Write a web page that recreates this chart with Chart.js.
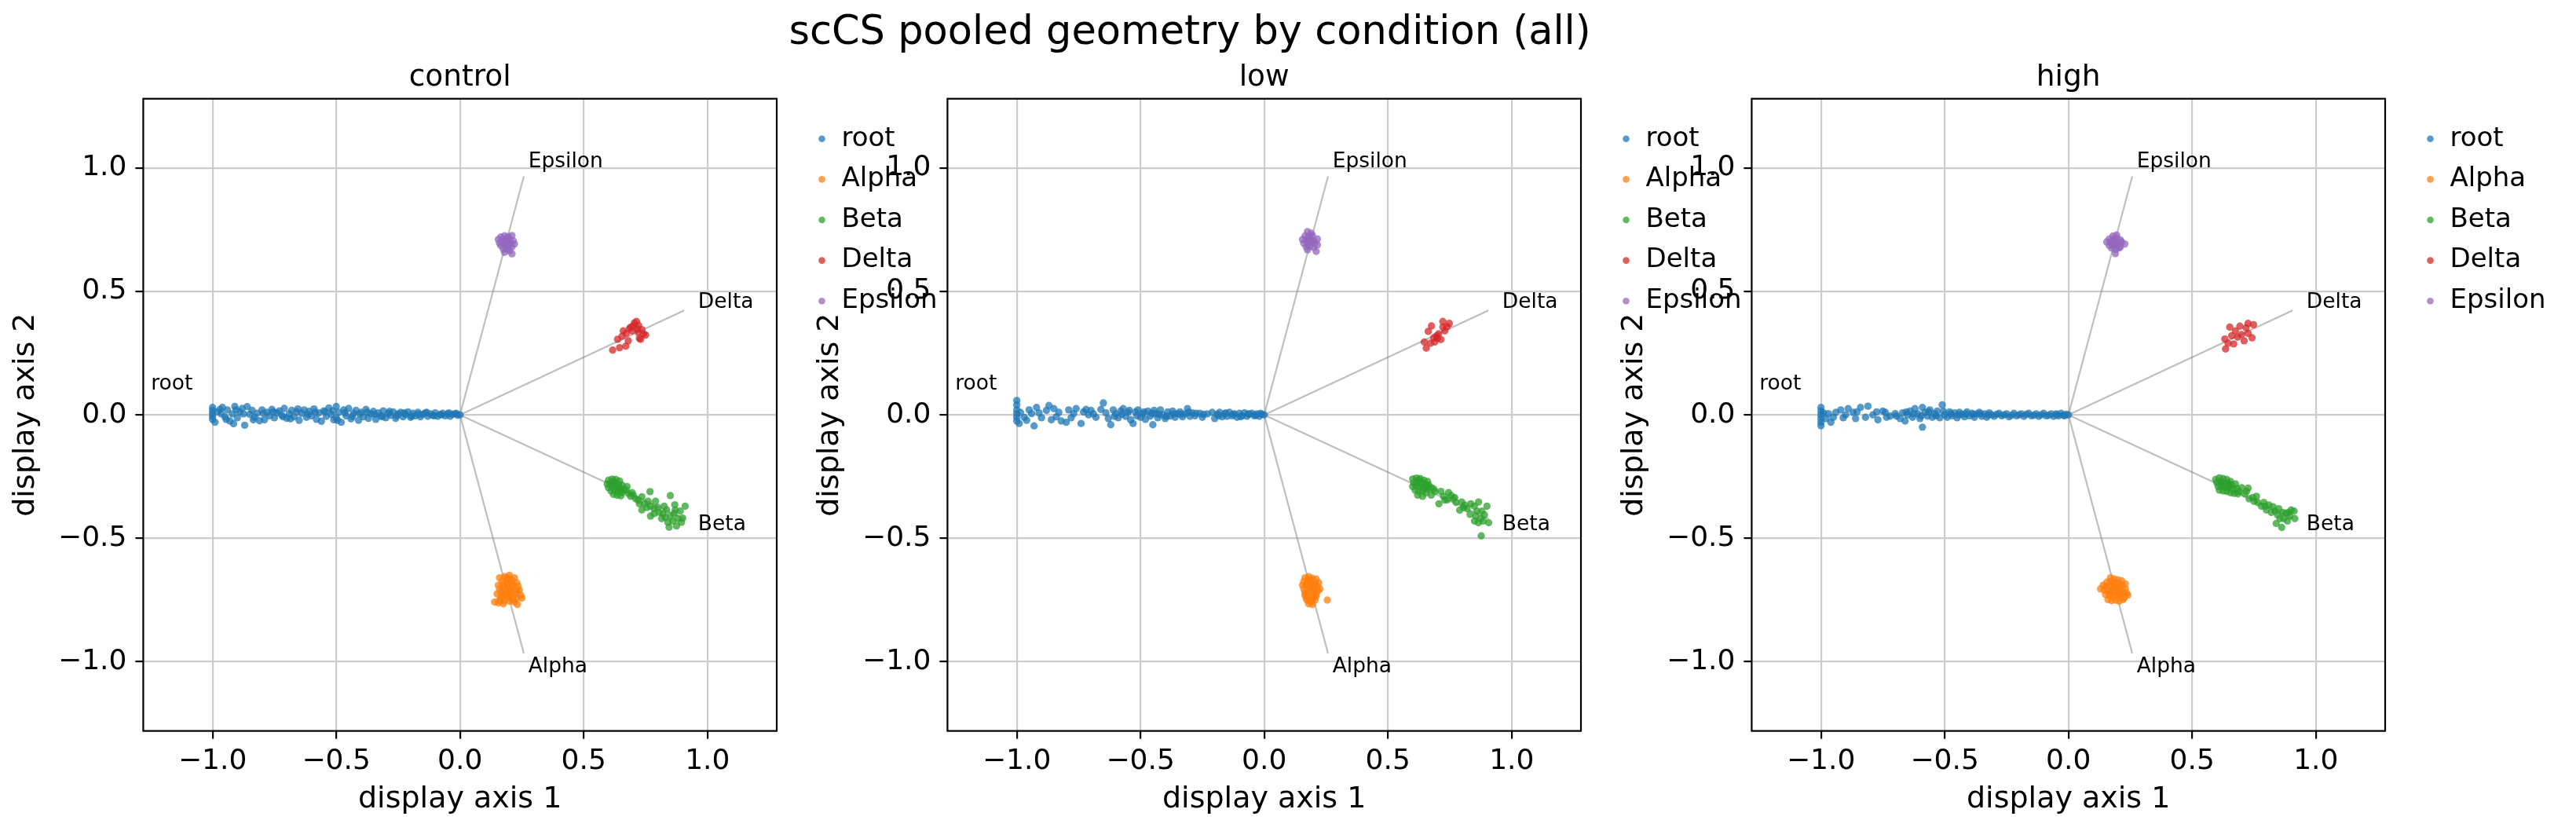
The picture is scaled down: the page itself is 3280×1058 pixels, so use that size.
<!DOCTYPE html>
<html>
<head>
<meta charset="utf-8">
<title>scCS pooled geometry by condition (all)</title>
<script src="https://cdn.jsdelivr.net/npm/chart.js@4.4.1/dist/chart.umd.min.js"></script>
<style>
  html, body { margin: 0; padding: 0; background: #fff; }
  body { width: 3280px; height: 1058px; position: relative; overflow: hidden; font-family: "DejaVu Sans", sans-serif; }
  #suptitle { position: absolute; left: 0; top: 13px; width: 3030px; text-align: center; font-size: 51px; line-height: 51px; color: #000; white-space: nowrap; }
  canvas { position: absolute; top: 0; }
</style>
</head>
<body>
<div id="suptitle">scCS pooled geometry by condition (all)</div>
<canvas id="panel0" width="1232" height="1058" style="left:0px"></canvas>
<canvas id="panel1" width="1232" height="1058" style="left:1024px"></canvas>
<canvas id="panel2" width="1232" height="1058" style="left:2048px"></canvas>
<script>
// 🔹 DATA
const conditions = ["control", "low", "high"];
const groups = ["root", "Alpha", "Beta", "Delta", "Epsilon"];
const groupColors = ["#1f77b4", "#ff7f0e", "#2ca02c", "#d62728", "#9467bd"];
const axisTicks = [-1.0, -0.5, 0.0, 0.5, 1.0];
const axisLimits = [-1.28, 1.28];

// branch rays (origin -> end) and label anchors, same order as groups[1..]
const branchEnds = [[0.258, -0.966], [0.907, -0.421], [0.906, 0.423], [0.258, 0.966]];
const branchLabelAt = [[0.276, -1.022], [0.962, -0.446], [0.962, 0.454], [0.276, 1.025]];
const rootLabelAt = [-1.08, 0.125];

// control
const rootControl = [[-1.00,0.030],[-1.00,0.018],[-1.00,0.006],[-1.00,-0.006],[-1.00,-0.018],[-0.99,-0.030],[-0.98,0.012],[-0.97,0.022],[-0.96,0.030],[-0.95,-0.008],[-0.94,0.020],[-0.93,-0.025],[-0.92,0.004],[-0.915,-0.036],[-0.91,0.034],[-0.90,-0.012],[-0.89,0.012],[-0.88,0.026],[-0.87,-0.042],[-0.86,0.033],[-0.85,0.002],[-0.84,0.018],[-0.83,-0.010],[-0.82,0.006],[-0.81,-0.024],[-0.80,0.020],[-0.79,-0.020],[-0.78,0.010],[-0.77,-0.004],[-0.76,0.022],[-0.75,-0.012],[-0.74,0.008],[-0.73,0.016],[-0.72,-0.002],[-0.71,0.026],[-0.70,-0.014],[-0.69,0.004],[-0.68,0.018],[-0.67,-0.008],[-0.66,0.012],[-0.65,-0.022],[-0.64,0.006],[-0.63,0.020],[-0.62,-0.010],[-0.61,0.014],[-0.60,-0.004],[-0.59,0.024],[-0.58,-0.018],[-0.57,0.008],[-0.56,-0.026],[-0.55,0.016],[-0.54,-0.006],[-0.53,0.028],[-0.52,0.002],[-0.51,-0.020],[-0.50,0.034],[-0.50,-0.012],[-0.49,0.010],[-0.48,-0.030],[-0.47,0.020],[-0.46,-0.004],[-0.45,0.026],[-0.44,-0.016],[-0.43,0.006],[-0.42,0.018],[-0.41,-0.022],[-0.40,0.010],[-0.39,-0.008],[-0.38,0.022],[-0.37,-0.014],[-0.36,0.004],[-0.35,0.014],[-0.34,-0.018],[-0.33,0.008],[-0.32,-0.004],[-0.31,0.016],[-0.30,-0.012],[-0.29,0.006],[-0.28,-0.002],[-0.27,0.012],[-0.26,-0.014],[-0.25,0.004],[-0.24,0.010],[-0.23,-0.008],[-0.22,0.002],[-0.21,0.012],[-0.20,-0.010],[-0.19,0.006],[-0.18,-0.004],[-0.17,0.010],[-0.16,-0.008],[-0.15,0.002],[-0.14,0.008],[-0.13,-0.006],[-0.12,0.004],[-0.11,-0.002],[-0.10,0.008],[-0.09,-0.006],[-0.08,0.002],[-0.07,0.006],[-0.06,-0.004],[-0.05,0.004],[-0.04,-0.006],[-0.03,0.002],[-0.02,0.004],[-0.01,-0.002],[0.00,0.000],
    [-0.965,0.004],[-0.945,-0.018],[-0.905,0.020],[-0.875,0.004],[-0.835,-0.020],[-0.795,0.006],[-0.755,0.012],[-0.715,-0.008],[-0.685,-0.016],[-0.655,0.024],[-0.615,0.002],[-0.585,0.010],[-0.545,0.012],[-0.515,0.016],[-0.495,-0.022],[-0.465,0.008],[-0.435,-0.006],[-0.405,0.004],[-0.375,0.010],[-0.345,0.002],[-0.315,-0.008],[-0.285,0.014],[-0.255,-0.004],[-0.225,0.008],[-0.195,-0.006],[-0.165,0.002],[-0.135,0.010],[-0.105,-0.004],[-0.075,0.000],[-0.045,0.008],[-0.015,0.006]];
const alphaControl = [[0.16,-0.66],[0.18,-0.655],[0.20,-0.65],[0.22,-0.66],[0.17,-0.675],[0.19,-0.67],[0.21,-0.672],[0.23,-0.68],[0.155,-0.69],[0.175,-0.688],[0.195,-0.685],[0.215,-0.69],[0.235,-0.695],[0.16,-0.705],[0.18,-0.70],[0.20,-0.705],[0.22,-0.708],[0.24,-0.71],[0.165,-0.72],[0.185,-0.718],[0.205,-0.722],[0.225,-0.725],[0.245,-0.73],[0.17,-0.735],[0.19,-0.738],[0.21,-0.74],[0.23,-0.742],[0.16,-0.75],[0.18,-0.752],[0.20,-0.755],[0.14,-0.758],[0.155,-0.762],[0.175,-0.765],[0.22,-0.758],[0.232,-0.768],[0.25,-0.742],[0.195,-0.695],[0.205,-0.715],[0.185,-0.728],[0.20,-0.665],[0.19,-0.66],[0.21,-0.685],[0.17,-0.712],[0.23,-0.715],[0.2,-0.732],[0.165,-0.742],[0.215,-0.75],[0.15,-0.725]];
const betaControl = [[0.60,-0.265],[0.615,-0.26],[0.63,-0.262],[0.645,-0.268],[0.595,-0.28],[0.61,-0.278],[0.625,-0.275],[0.64,-0.28],[0.655,-0.285],[0.60,-0.295],[0.615,-0.292],[0.63,-0.29],[0.645,-0.296],[0.66,-0.30],[0.61,-0.308],[0.625,-0.305],[0.64,-0.31],[0.655,-0.315],[0.67,-0.305],[0.62,-0.322],[0.635,-0.325],[0.65,-0.328],[0.68,-0.318],[0.69,-0.33],[0.70,-0.325],[0.71,-0.34],[0.72,-0.345],[0.735,-0.332],[0.735,-0.385],[0.745,-0.36],[0.76,-0.35],[0.768,-0.311],[0.77,-0.37],[0.77,-0.41],[0.785,-0.38],[0.80,-0.375],[0.805,-0.395],[0.82,-0.40],[0.825,-0.37],[0.835,-0.385],[0.845,-0.455],[0.85,-0.327],[0.85,-0.41],[0.86,-0.43],[0.865,-0.40],[0.868,-0.364],[0.875,-0.45],[0.88,-0.42],[0.89,-0.39],[0.90,-0.418],[0.91,-0.37],[0.84,-0.435],[0.815,-0.42],[0.79,-0.35],[0.62,-0.27],[0.65,-0.305],[0.675,-0.29],[0.695,-0.315],[0.725,-0.36],[0.755,-0.375],[0.785,-0.40],[0.83,-0.415],[0.87,-0.385],[0.895,-0.435]];
const deltaControl = [[0.617,0.262],[0.645,0.272],[0.67,0.278],[0.637,0.306],[0.655,0.318],[0.66,0.34],[0.672,0.33],[0.685,0.35],[0.69,0.355],[0.70,0.36],[0.705,0.372],[0.713,0.378],[0.716,0.348],[0.722,0.362],[0.73,0.306],[0.735,0.345],[0.742,0.328],[0.75,0.323],[0.72,0.335],[0.695,0.34],[0.68,0.30],[0.725,0.31]];
const epsilonControl = [[0.165,0.72],[0.18,0.725],[0.195,0.722],[0.21,0.726],[0.155,0.71],[0.17,0.708],[0.185,0.712],[0.20,0.71],[0.215,0.705],[0.16,0.695],[0.175,0.698],[0.19,0.70],[0.205,0.696],[0.22,0.692],[0.165,0.685],[0.18,0.688],[0.195,0.684],[0.21,0.68],[0.175,0.672],[0.19,0.67],[0.20,0.665],[0.18,0.658],[0.21,0.652],[0.185,0.70],[0.20,0.69]];

// low
const rootLow = [[-1.00,0.058],[-1.00,0.04],[-1.00,0.02],[-1.00,0.005],[-1.00,-0.01],[-1.00,-0.025],[-0.99,-0.035],[-0.97,-0.01],[-0.95,0.02],[-0.94,0.005],[-0.93,-0.045],[-0.92,0.03],[-0.90,-0.012],[-0.88,0.018],[-0.87,0.038],[-0.86,-0.02],[-0.85,0.025],[-0.83,0.01],[-0.82,-0.025],[-0.80,-0.03],[-0.79,0.02],[-0.77,0.005],[-0.76,0.025],[-0.74,-0.035],[-0.73,0.012],[-0.71,0.0],[-0.70,0.018],[-0.68,-0.01],[-0.66,0.022],[-0.65,0.048],[-0.64,0.008],[-0.63,-0.015],[-0.62,-0.04],[-0.61,0.02],[-0.60,0.004],[-0.59,-0.012],[-0.58,0.015],[-0.57,0.025],[-0.56,-0.006],[-0.55,0.01],[-0.54,-0.02],[-0.53,-0.035],[-0.52,0.012],[-0.51,0.02],[-0.50,-0.01],[-0.49,0.005],[-0.48,-0.018],[-0.47,0.015],[-0.46,-0.005],[-0.45,-0.04],[-0.445,0.018],[-0.44,0.005],[-0.43,-0.012],[-0.42,0.02],[-0.41,0.0],[-0.40,-0.015],[-0.39,0.012],[-0.38,-0.005],[-0.37,0.015],[-0.36,-0.01],[-0.35,0.005],[-0.34,0.012],[-0.33,-0.008],[-0.32,0.004],[-0.31,0.025],[-0.30,-0.006],[-0.29,0.008],[-0.28,-0.004],[-0.26,0.006],[-0.25,-0.01],[-0.23,0.004],[-0.21,0.01],[-0.20,-0.015],[-0.19,0.002],[-0.18,0.01],[-0.17,-0.008],[-0.16,0.004],[-0.15,-0.006],[-0.14,0.01],[-0.13,-0.004],[-0.12,0.004],[-0.11,-0.01],[-0.10,0.006],[-0.09,-0.004],[-0.08,0.008],[-0.07,-0.006],[-0.06,0.002],[-0.05,0.006],[-0.04,-0.004],[-0.03,0.004],[-0.02,-0.006],[-0.01,0.002],[0.00,0.0],
    [-0.985,0.01],[-0.96,-0.022],[-0.91,0.008],[-0.84,-0.008],[-0.78,-0.012],[-0.72,0.022],[-0.69,0.004],[-0.605,-0.006],[-0.575,0.002],[-0.545,0.018],[-0.515,-0.004],[-0.485,0.012],[-0.455,0.006],[-0.425,0.002],[-0.395,-0.006],[-0.365,0.004],[-0.335,0.002],[-0.305,0.01],[-0.275,0.006],[-0.245,0.002],[-0.185,-0.004],[-0.155,0.008],[-0.125,0.002],[-0.095,-0.008],[-0.065,0.004],[-0.035,-0.002],[-0.015,0.006]];
const alphaLow = [[0.165,-0.66],[0.18,-0.655],[0.195,-0.662],[0.21,-0.665],[0.16,-0.675],[0.175,-0.672],[0.19,-0.675],[0.205,-0.678],[0.22,-0.68],[0.155,-0.69],[0.17,-0.688],[0.185,-0.69],[0.20,-0.692],[0.215,-0.695],[0.16,-0.705],[0.175,-0.702],[0.19,-0.706],[0.205,-0.71],[0.165,-0.72],[0.18,-0.718],[0.195,-0.722],[0.21,-0.725],[0.17,-0.735],[0.185,-0.738],[0.20,-0.74],[0.175,-0.752],[0.19,-0.756],[0.205,-0.75],[0.18,-0.765],[0.195,-0.768],[0.255,-0.75],[0.225,-0.705],[0.17,-0.745],[0.21,-0.735],[0.185,-0.668],[0.2,-0.7],[0.215,-0.715],[0.165,-0.73],[0.19,-0.745]];
const betaLow = [[0.60,-0.26],[0.615,-0.256],[0.63,-0.258],[0.645,-0.265],[0.66,-0.27],[0.605,-0.275],[0.62,-0.272],[0.635,-0.275],[0.65,-0.28],[0.665,-0.285],[0.60,-0.29],[0.615,-0.288],[0.63,-0.29],[0.645,-0.295],[0.66,-0.30],[0.675,-0.295],[0.61,-0.305],[0.625,-0.31],[0.64,-0.308],[0.655,-0.315],[0.62,-0.325],[0.64,-0.33],[0.675,-0.325],[0.69,-0.31],[0.706,-0.36],[0.714,-0.31],[0.725,-0.33],[0.74,-0.344],[0.745,-0.315],[0.756,-0.327],[0.77,-0.335],[0.775,-0.355],[0.79,-0.386],[0.798,-0.353],[0.81,-0.365],[0.82,-0.38],[0.832,-0.403],[0.835,-0.36],[0.849,-0.37],[0.855,-0.41],[0.866,-0.353],[0.866,-0.437],[0.875,-0.42],[0.88,-0.39],[0.89,-0.405],[0.90,-0.37],[0.907,-0.437],[0.877,-0.49],[0.85,-0.43],[0.625,-0.265],[0.655,-0.29],[0.685,-0.3],[0.73,-0.345],[0.765,-0.34],[0.805,-0.375],[0.86,-0.39],[0.885,-0.43]];
const deltaLow = [[0.647,0.295],[0.655,0.27],[0.663,0.338],[0.672,0.29],[0.676,0.36],[0.689,0.295],[0.697,0.32],[0.70,0.31],[0.714,0.305],[0.705,0.328],[0.722,0.355],[0.722,0.378],[0.739,0.357],[0.748,0.37],[0.685,0.312],[0.73,0.34]];
const epsilonLow = [[0.175,0.742],[0.19,0.735],[0.165,0.725],[0.18,0.722],[0.195,0.726],[0.155,0.71],[0.17,0.708],[0.185,0.712],[0.20,0.706],[0.215,0.712],[0.16,0.695],[0.175,0.692],[0.19,0.698],[0.205,0.694],[0.215,0.688],[0.17,0.68],[0.185,0.682],[0.20,0.678],[0.175,0.668],[0.21,0.662],[0.19,0.705],[0.18,0.70]];

// high
const rootHigh = [[-1.00,0.03],[-1.00,0.015],[-1.00,0.0],[-1.00,-0.015],[-1.00,-0.03],[-1.00,-0.044],[-0.98,-0.015],[-0.97,0.005],[-0.96,-0.03],[-0.94,0.01],[-0.92,0.02],[-0.90,0.0],[-0.89,0.025],[-0.87,0.01],[-0.86,-0.015],[-0.84,0.03],[-0.82,-0.01],[-0.81,0.035],[-0.79,0.0],[-0.77,-0.02],[-0.75,0.015],[-0.74,0.01],[-0.72,-0.005],[-0.70,0.005],[-0.68,-0.015],[-0.67,0.008],[-0.66,-0.025],[-0.65,0.0],[-0.64,0.015],[-0.63,-0.01],[-0.62,0.025],[-0.61,0.005],[-0.60,-0.015],[-0.59,0.03],[-0.59,-0.05],[-0.58,0.01],[-0.57,-0.005],[-0.56,0.02],[-0.55,-0.01],[-0.54,0.005],[-0.53,0.015],[-0.52,-0.012],[-0.51,0.04],[-0.50,0.0],[-0.49,-0.01],[-0.48,0.012],[-0.47,-0.004],[-0.46,0.008],[-0.45,-0.012],[-0.44,0.01],[-0.43,0.002],[-0.42,-0.008],[-0.41,0.012],[-0.40,-0.004],[-0.39,0.006],[-0.38,-0.01],[-0.37,0.004],[-0.36,0.01],[-0.35,-0.006],[-0.34,0.004],[-0.33,-0.01],[-0.32,0.008],[-0.31,0.0],[-0.30,-0.006],[-0.28,0.006],[-0.27,-0.004],[-0.25,0.004],[-0.24,-0.008],[-0.22,0.006],[-0.21,-0.004],[-0.19,0.004],[-0.18,-0.006],[-0.16,0.006],[-0.15,-0.004],[-0.13,0.004],[-0.12,-0.006],[-0.10,0.006],[-0.09,-0.004],[-0.07,0.004],[-0.06,-0.006],[-0.05,0.004],[-0.04,-0.004],[-0.03,0.006],[-0.02,-0.002],[-0.01,0.002],[0.00,0.0],
    [-0.99,0.008],[-0.95,-0.01],[-0.91,-0.012],[-0.855,0.012],[-0.775,0.012],[-0.735,-0.01],[-0.695,-0.005],[-0.655,0.012],[-0.625,0.004],[-0.595,-0.004],[-0.565,0.012],[-0.535,-0.004],[-0.505,0.014],[-0.475,0.004],[-0.445,0.0],[-0.415,0.004],[-0.385,0.002],[-0.355,0.004],[-0.325,0.0],[-0.29,0.002],[-0.26,0.0],[-0.23,-0.002],[-0.20,0.0],[-0.17,0.002],[-0.14,-0.002],[-0.11,0.0],[-0.08,-0.002],[-0.045,0.0],[-0.015,-0.004]];
const alphaHigh = [[0.17,-0.66],[0.185,-0.665],[0.20,-0.668],[0.215,-0.672],[0.155,-0.678],[0.17,-0.675],[0.185,-0.68],[0.20,-0.682],[0.215,-0.688],[0.23,-0.685],[0.14,-0.69],[0.155,-0.694],[0.17,-0.692],[0.185,-0.695],[0.20,-0.698],[0.215,-0.70],[0.23,-0.705],[0.145,-0.71],[0.16,-0.708],[0.175,-0.712],[0.19,-0.715],[0.205,-0.718],[0.22,-0.72],[0.235,-0.722],[0.15,-0.728],[0.165,-0.73],[0.18,-0.735],[0.195,-0.732],[0.21,-0.738],[0.225,-0.742],[0.16,-0.748],[0.175,-0.752],[0.19,-0.75],[0.205,-0.755],[0.22,-0.748],[0.24,-0.73],[0.13,-0.705],[0.185,-0.705],[0.2,-0.708],[0.17,-0.72],[0.21,-0.728]];
const betaHigh = [[0.595,-0.262],[0.61,-0.255],[0.625,-0.258],[0.64,-0.262],[0.655,-0.27],[0.60,-0.275],[0.615,-0.272],[0.63,-0.275],[0.645,-0.278],[0.66,-0.285],[0.675,-0.28],[0.605,-0.29],[0.62,-0.288],[0.635,-0.292],[0.65,-0.295],[0.665,-0.30],[0.68,-0.298],[0.61,-0.305],[0.625,-0.308],[0.64,-0.31],[0.655,-0.315],[0.67,-0.318],[0.69,-0.31],[0.70,-0.295],[0.712,-0.32],[0.726,-0.297],[0.73,-0.34],[0.745,-0.335],[0.76,-0.33],[0.765,-0.355],[0.78,-0.37],[0.79,-0.355],[0.80,-0.385],[0.81,-0.365],[0.827,-0.372],[0.835,-0.39],[0.845,-0.405],[0.85,-0.38],[0.862,-0.456],[0.865,-0.395],[0.87,-0.42],[0.878,-0.398],[0.885,-0.43],[0.895,-0.41],[0.90,-0.385],[0.912,-0.39],[0.915,-0.42],[0.84,-0.44],[0.62,-0.28],[0.65,-0.285],[0.685,-0.32],[0.72,-0.31],[0.75,-0.35],[0.795,-0.37],[0.82,-0.395],[0.855,-0.42],[0.89,-0.395]];
const deltaHigh = [[0.632,0.307],[0.635,0.267],[0.645,0.29],[0.652,0.355],[0.66,0.32],[0.668,0.287],[0.675,0.34],[0.684,0.315],[0.693,0.359],[0.70,0.325],[0.718,0.352],[0.726,0.33],[0.726,0.37],[0.742,0.312],[0.748,0.365],[0.71,0.30]];
const epsilonHigh = [[0.18,0.724],[0.195,0.728],[0.165,0.712],[0.18,0.71],[0.195,0.714],[0.21,0.708],[0.155,0.70],[0.17,0.698],[0.185,0.702],[0.20,0.696],[0.215,0.70],[0.228,0.692],[0.165,0.685],[0.18,0.688],[0.195,0.684],[0.21,0.68],[0.175,0.675],[0.19,0.67],[0.205,0.676],[0.19,0.653],[0.185,0.695]];

const panelPoints = [
    [rootControl, alphaControl, betaControl, deltaControl, epsilonControl],
    [rootLow, alphaLow, betaLow, deltaLow, epsilonLow],
    [rootHigh, alphaHigh, betaHigh, deltaHigh, epsilonHigh]
];

// 🎨 HELPERS
const FONT = "'DejaVu Sans'";
const withAlpha = (hex, a) => {
    const n = parseInt(hex.slice(1), 16);
    return `rgba(${(n >> 16) & 255},${(n >> 8) & 255},${n & 255},${a})`;
};
const fmtTick = (v) => (v < 0 ? "\u2212" : "") + Math.abs(v).toFixed(1);

// 🖌️ PANEL DECOR (spines, branch labels, subplot title, legend)
const panelDecor = {
    id: "panelDecor",
    afterDraw: (chart, args, opts) => {
        const { ctx, chartArea: a, scales } = chart;
        const sx = scales.x, sy = scales.y;
        ctx.save();

        ctx.strokeStyle = "#000";
        ctx.lineWidth = 2.2;
        ctx.strokeRect(a.left, a.top, a.right - a.left, a.bottom - a.top);

        ctx.fillStyle = "#000";
        ctx.font = `26.5px ${FONT}`;
        ctx.textBaseline = "middle";
        ctx.textAlign = "right";
        ctx.fillText(groups[0], sx.getPixelForValue(rootLabelAt[0]), sy.getPixelForValue(rootLabelAt[1]));
        ctx.textAlign = "left";
        branchLabelAt.forEach((p, i) => {
            ctx.fillText(groups[i + 1], sx.getPixelForValue(p[0]), sy.getPixelForValue(p[1]));
        });

        ctx.font = `37.5px ${FONT}`;
        ctx.textAlign = "center";
        ctx.textBaseline = "alphabetic";
        ctx.fillText(opts.title, (a.left + a.right) / 2, a.top - 16.5);

        ctx.font = `34px ${FONT}`;
        ctx.textAlign = "left";
        ctx.textBaseline = "middle";
        const lx = a.right + 57.5;
        groups.forEach((g, i) => {
            const ly = 176.7 + i * 51.65;
            ctx.beginPath();
            ctx.arc(lx, ly, 4.3, 0, Math.PI * 2);
            ctx.fillStyle = withAlpha(groupColors[i], 0.75);
            ctx.fill();
            ctx.fillStyle = "#000";
            ctx.fillText(g, lx + 25, ly);
        });
        ctx.restore();
    }
};

// 📊 BUILD ONE PANEL
const buildPanel = (idx) => {
    const rays = branchEnds.map((e) => ({
        label: "ray",
        data: [{ x: 0, y: 0 }, { x: e[0], y: e[1] }],
        showLine: true,
        borderColor: "rgba(128,128,128,0.5)",
        borderWidth: 2.2,
        pointRadius: 0,
        order: 10
    }));
    const dots = panelPoints[idx].map((arr, g) => ({
        label: groups[g],
        data: arr.map((p) => ({ x: p[0], y: p[1] })),
        backgroundColor: withAlpha(groupColors[g], 0.75),
        borderWidth: 0,
        pointRadius: 4.7,
        order: 5 - g
    }));

    const axis = (titleText, isX) => ({
        type: "linear",
        min: axisLimits[0],
        max: axisLimits[1],
        afterBuildTicks: (scale) => { scale.ticks = axisTicks.map((v) => ({ value: v })); },
        afterFit: (scale) => {
            if (isX) scale.height = 127.4;
            else scale.width = 182.4;
        },
        grid: {
            color: "#cccccc",
            lineWidth: 2.2,
            drawTicks: true,
            tickLength: 10,
            tickColor: "#000",
            tickWidth: 2.2
        },
        border: { display: false },
        ticks: {
            autoSkip: false,
            maxRotation: 0,
            padding: isX ? 7 : 11,
            color: "#000",
            font: { family: FONT, size: 36 },
            callback: fmtTick
        },
        title: {
            display: true,
            text: titleText,
            color: "#000",
            font: { family: FONT, size: 38 },
            padding: isX ? { top: 0, bottom: 17 } : { top: 10, bottom: 0 }
        }
    });

    new Chart(document.getElementById("panel" + idx), {
        type: "scatter",
        data: { datasets: [...rays, ...dots] },
        options: {
            responsive: false,
            animation: false,
            devicePixelRatio: 1,
            events: [],
            layout: { padding: { left: 0, top: 125.7, right: 243, bottom: 0 } },
            scales: {
                x: axis("display axis 1", true),
                y: axis("display axis 2", false)
            },
            plugins: {
                legend: { display: false },
                tooltip: { enabled: false },
                panelDecor: { title: conditions[idx] }
            }
        },
        plugins: [panelDecor]
    });
};

// 🚀 INICIAR
conditions.forEach((c, i) => buildPanel(i));
</script>
</body>
</html>
